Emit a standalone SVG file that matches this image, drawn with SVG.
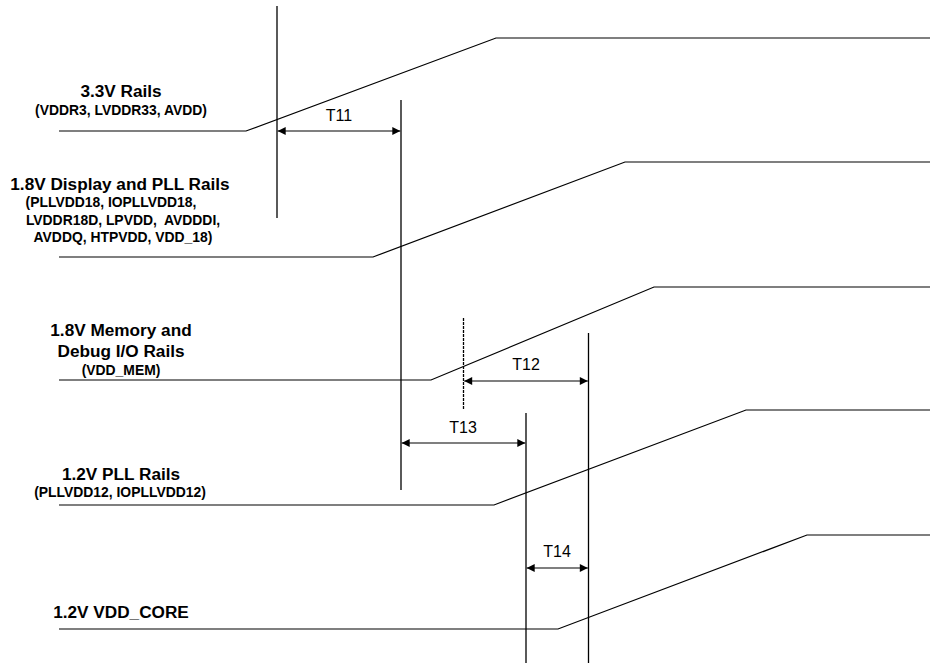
<svg xmlns="http://www.w3.org/2000/svg" width="931" height="665" viewBox="0 0 931 665">
<defs>
<style>
.rail{fill:none;stroke:#000;stroke-width:1.2}
.vl{fill:none;stroke:#000;stroke-width:1.3}
.dash{stroke-dasharray:3,1}
.dim{fill:none;stroke:#000;stroke-width:1.2;marker-start:url(#ah);marker-end:url(#ah)}
.lbl{font-family:"Liberation Sans",Arial,sans-serif;font-weight:bold;font-size:17.2px;fill:#000;text-anchor:middle}
.sub{font-family:"Liberation Sans",Arial,sans-serif;font-weight:bold;font-size:13.9px;fill:#000;text-anchor:middle}
.t{font-family:"Liberation Sans",Arial,sans-serif;font-size:16px;fill:#000;text-anchor:middle}
</style>
<marker id="ah" viewBox="0 0 10 10" refX="10" refY="5" markerWidth="9" markerHeight="8" markerUnits="userSpaceOnUse" orient="auto-start-reverse">
<path d="M0,0 L10,5 L0,10 Z" fill="#000"/>
</marker>
</defs>
<rect width="931" height="665" fill="#fff"/>

<g id="rail-33">
<polyline class="rail" points="59,131 246,131 496,38 930,38"/>
<text class="lbl" x="121" y="97">3.3V Rails</text>
<text class="sub" x="121" y="115">(VDDR3, LVDDR33, AVDD)</text>
</g>
<g id="rail-18-display">
<polyline class="rail" points="59,257 373,257 625,162 930,162"/>
<text class="lbl" x="120" y="190">1.8V Display and PLL Rails</text>
<text class="sub" x="111" y="207">(PLLVDD18, IOPLLVDD18,</text>
<text class="sub" x="123" y="225">LVDDR18D, LPVDD,&#160; AVDDDI,</text>
<text class="sub" x="123" y="242">AVDDQ, HTPVDD, VDD_18)</text>
</g>
<g id="rail-18-mem">
<polyline class="rail" points="59,380 431,380 654,287 930,287"/>
<text class="lbl" x="121" y="336">1.8V Memory and</text>
<text class="lbl" x="121" y="357">Debug I/O Rails</text>
<text class="sub" x="121" y="375">(VDD_MEM)</text>
</g>
<g id="rail-12-pll">
<polyline class="rail" points="59,505 494,505 746,410 930,410"/>
<text class="lbl" x="121" y="480">1.2V PLL Rails</text>
<text class="sub" x="120" y="497">(PLLVDD12, IOPLLVDD12)</text>
</g>
<g id="rail-12-core">
<polyline class="rail" points="59,629 558,629 807,535 930,535"/>
<text class="lbl" x="121" y="618">1.2V VDD_CORE</text>
</g>

<g id="connectors">
<line class="vl" x1="277" y1="6" x2="277" y2="218"/>
<line class="vl" x1="401" y1="100" x2="401" y2="490"/>
<line class="vl dash" x1="463.5" y1="318" x2="463.5" y2="410"/>
<line class="vl" x1="588.5" y1="333" x2="588.5" y2="663"/>
<line class="vl" x1="526" y1="413" x2="526" y2="663"/>
<line class="dim" x1="277.7" y1="131" x2="400.3" y2="131"/>
<line class="dim" x1="464.2" y1="381" x2="587.8" y2="381"/>
<line class="dim" x1="401.7" y1="443" x2="525.3" y2="443"/>
<line class="dim" x1="526.7" y1="568" x2="587.8" y2="568"/>
<text class="t" x="339" y="121">T11</text>
<text class="t" x="526" y="370">T12</text>
<text class="t" x="463" y="433">T13</text>
<text class="t" x="557" y="557">T14</text>
</g>
</svg>
